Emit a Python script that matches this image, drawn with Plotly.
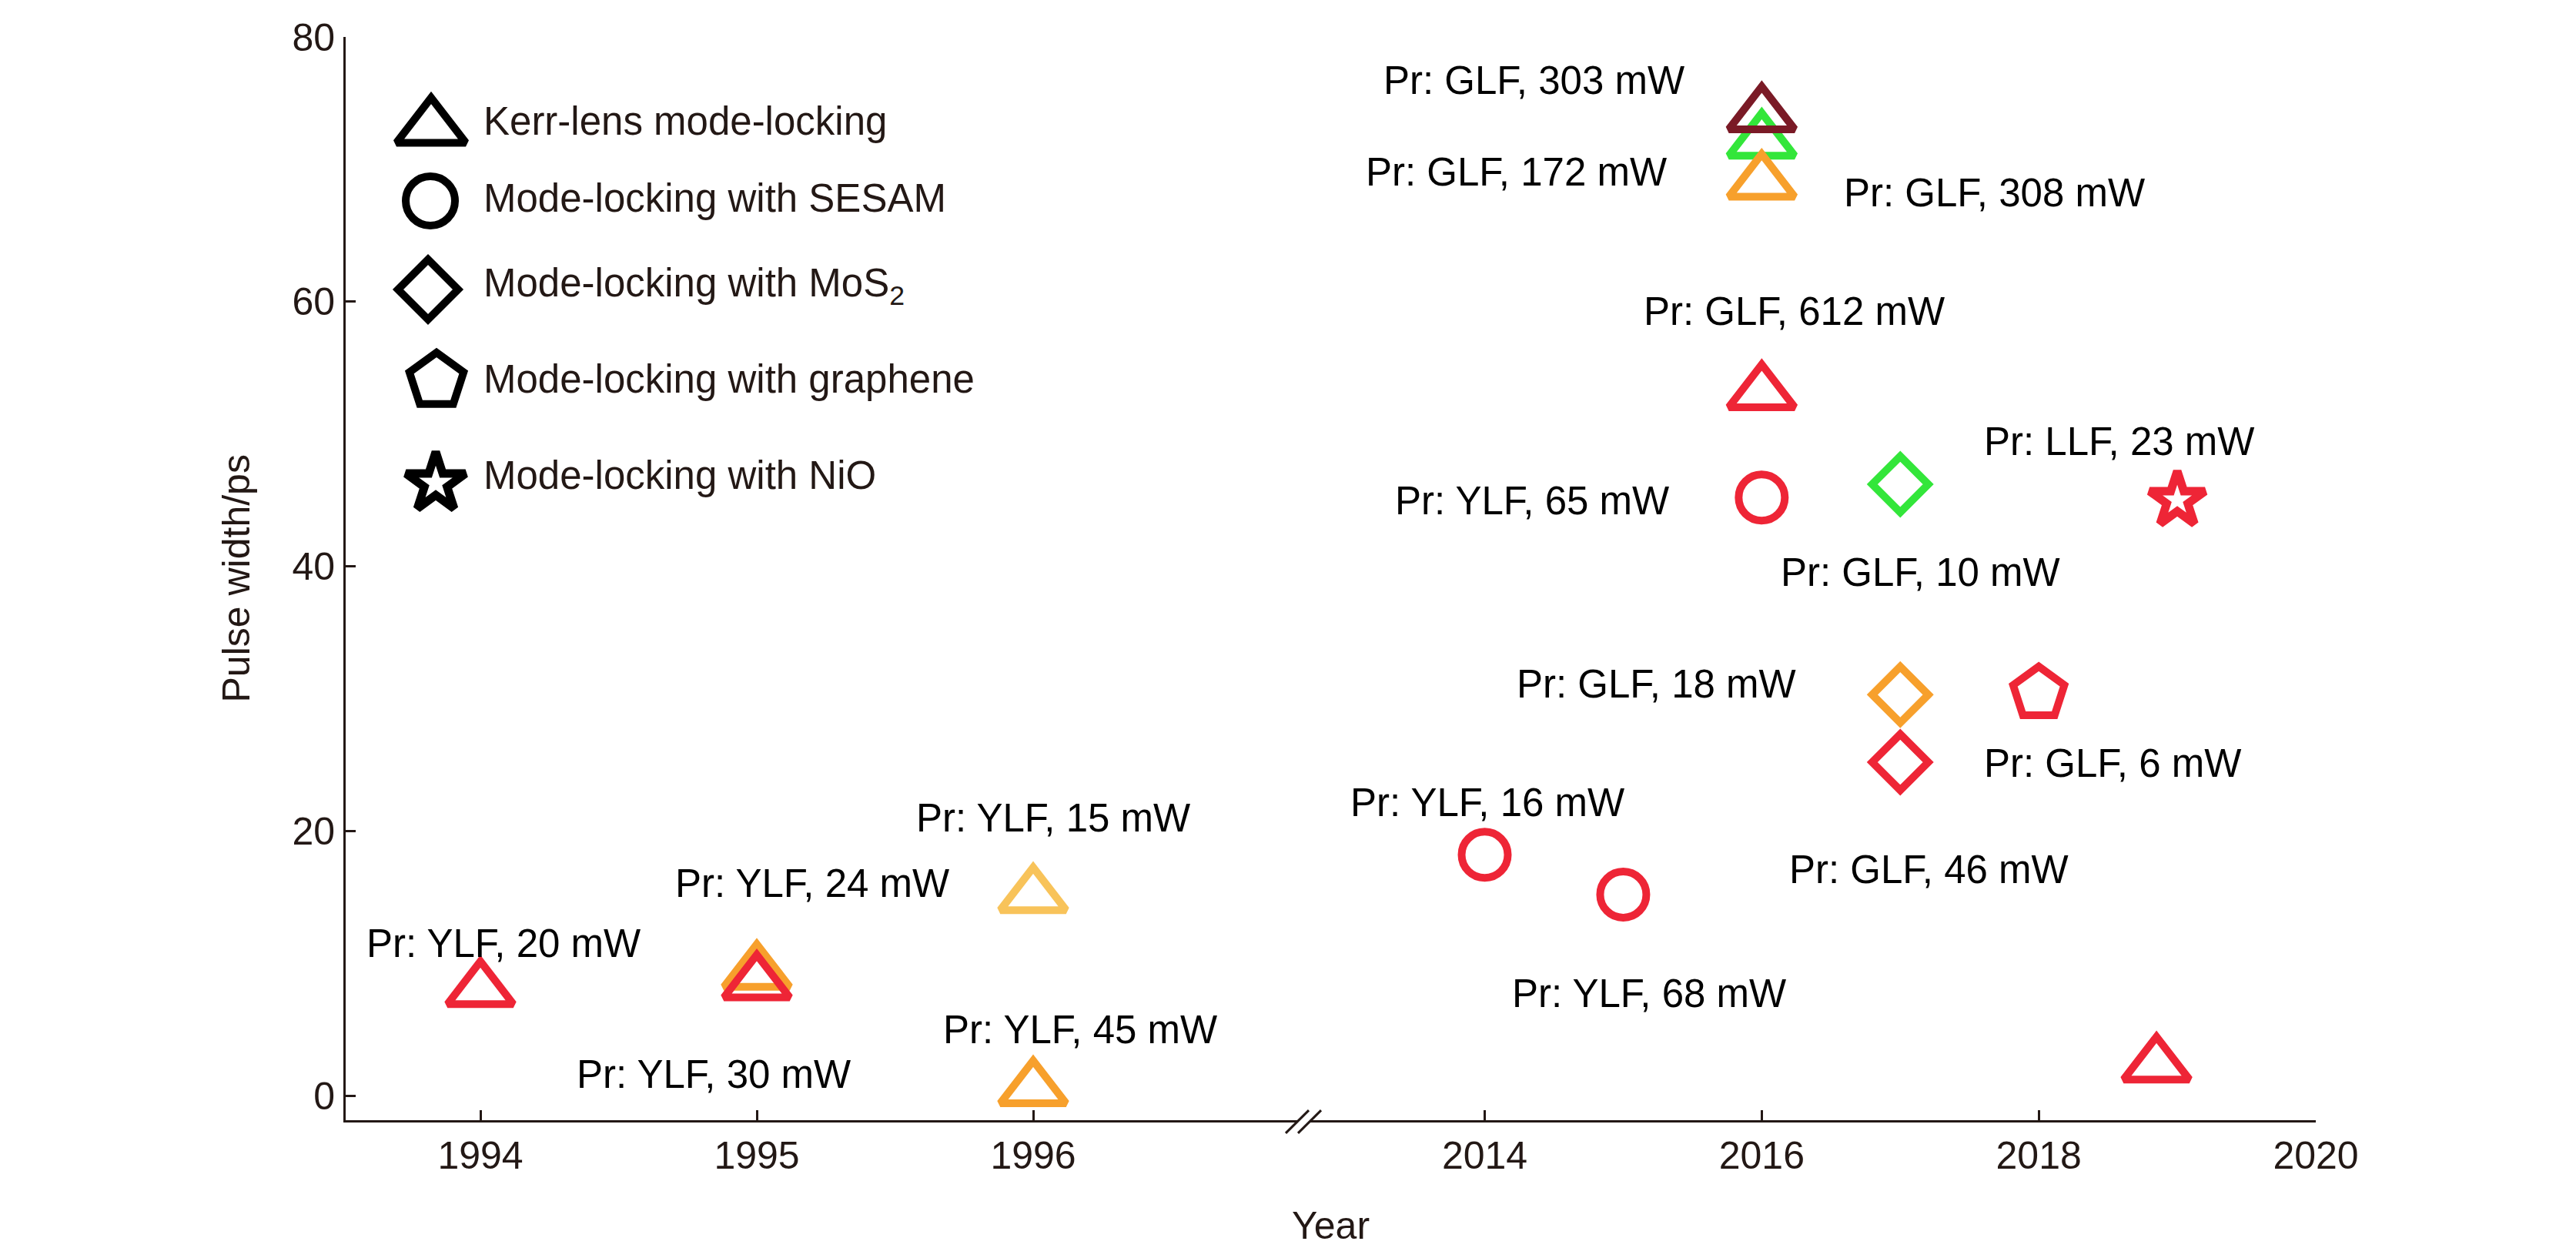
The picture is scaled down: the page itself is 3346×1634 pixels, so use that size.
import plotly.graph_objects as go

# ---------------- data ----------------
year = [1994, 1995, 1995, 1996, 1996,
        2014, 2015, 2016, 2016, 2016, 2016, 2016,
        2017, 2017, 2017, 2018, 2019, 2018.85]
pulse_ps = [8.0, 9.3, 8.5, 15.1, 0.5,
            18.2, 15.2, 45.2, 53.1, 72.1, 74.1, 69.0,
            46.2, 30.3, 25.2, 30.4, 45.0, 2.3]
method = ["Kerr", "Kerr", "Kerr", "Kerr", "Kerr",
          "SESAM", "SESAM", "SESAM", "Kerr", "Kerr", "Kerr", "Kerr",
          "MoS2", "MoS2", "MoS2", "graphene", "NiO", "Kerr"]
label = ["Pr: YLF, 20 mW", "Pr: YLF, 24 mW", "Pr: YLF, 30 mW", "Pr: YLF, 15 mW", "Pr: YLF, 45 mW",
         "Pr: YLF, 16 mW", "Pr: YLF, 68 mW", "Pr: YLF, 65 mW", "Pr: GLF, 612 mW",
         "Pr: GLF, 308 mW", "Pr: GLF, 303 mW", "Pr: GLF, 172 mW",
         "Pr: GLF, 10 mW", "Pr: GLF, 18 mW", "Pr: GLF, 46 mW", "Pr: GLF, 6 mW",
         "Pr: LLF, 23 mW", ""]

x_ticks_left = [1994, 1995, 1996]
x_ticks_right = [2014, 2016, 2018, 2020]
y_ticks = [0, 20, 40, 60, 80]

legend_methods = ["Kerr", "SESAM", "MoS2", "graphene", "NiO"]
legend_text = ["Kerr-lens mode-locking", "Mode-locking with SESAM",
               "Mode-locking with MoS<sub>2</sub>", "Mode-locking with graphene",
               "Mode-locking with NiO"]

# ---------------- styles ----------------
RED = "#EE2536"
ORANGE = "#F7A02C"
YELLOW = "#F8C35A"
GREEN = "#33E63A"
DARKRED = "#7A1A26"
INK = "#231815"
FONT = "Arial, Liberation Sans, sans-serif"
FS = 51

point_color = [RED, ORANGE, RED, YELLOW, ORANGE,
               RED, RED, RED, RED, GREEN, DARKRED, ORANGE,
               GREEN, ORANGE, RED, RED, RED, RED]
# label offsets (px) relative to the marker: (xshift, yshift)
label_shift = [(-150, 60), (-108, 116), (-236, -118), (-154, 101), (-119, 77),
               (-177, 68), (-146, -129), (-478, -4), (-155, 106),
               (105, -67), (-493, 45), (-516, 14),
               (-157, -114), (-500, 14), (-146, -139), (-73, -91),
               (-253, 76), (0, 0)]

symbol = {"Kerr": "triangle-up-open", "SESAM": "circle-open", "MoS2": "diamond-open",
          "graphene": "pentagon-open", "NiO": "star-open"}
msize = {"Kerr": 74, "SESAM": 60, "MoS2": 56, "graphene": 70, "NiO": 54}
mlw = {"Kerr": 10, "SESAM": 10, "MoS2": 10, "graphene": 10, "NiO": 11}

# layout geometry (page pixels); page body has a small default margin
OFF_X, OFF_Y = 8, 6
W, H = 3346 - 2 * 8, 1634 - 2 * 8
PL, PR, PT, PB = 449, 3008, 33, 1453
ML, MT = PL - OFF_X, PT - OFF_Y
MR, MB = W - (PR - OFF_X), H - (PB - OFF_Y)
PW, PH = PR - PL, PB - PT
BREAK_L, BREAK_R = 1686, 1702


def px2paper_x(px):
    return (px - PL) / PW


def px2paper_y(py):
    return (PB - py) / PH


fig = go.Figure()

# data markers, drawn point by point to keep overlap order
order = [1, 2, 0, 3, 4, 5, 6, 7, 8, 9, 10, 11, 12, 13, 14, 15, 16, 17]
for i in order:
    xa = "x" if year[i] < 2000 else "x2"
    m = method[i]
    fig.add_trace(go.Scatter(
        x=[year[i]], y=[pulse_ps[i]], xaxis=xa, yaxis="y", mode="markers",
        marker=dict(symbol=symbol[m], size=msize[m], color=point_color[i],
                    line=dict(width=mlw[m], color=point_color[i])),
        cliponaxis=False, showlegend=False, hoverinfo="skip"))

# labels
annotations = []
for i in range(len(year)):
    if not label[i]:
        continue
    xa = "x" if year[i] < 2000 else "x2"
    annotations.append(dict(
        x=year[i], y=pulse_ps[i], xref=xa, yref="y", text=label[i],
        xshift=label_shift[i][0], yshift=label_shift[i][1],
        xanchor="left", yanchor="middle", showarrow=False,
        font=dict(family=FONT, size=FS, color="black")))

# custom legend (pixel positioned on a hidden overlay axis)
legend_key_x = [560, 559, 556, 567, 566]
legend_key_y = [152, 248, 364, 484, 618]
legend_text_y = [144, 244, 359, 482, 608]
for k, m in enumerate(legend_methods):
    fig.add_trace(go.Scatter(
        x=[legend_key_x[k]], y=[legend_key_y[k]], xaxis="x3", yaxis="y3", mode="markers",
        marker=dict(symbol=symbol[m], size=msize[m] + 4, color="black",
                    line=dict(width=mlw[m], color="black")),
        cliponaxis=False, showlegend=False, hoverinfo="skip"))
    annotations.append(dict(
        x=px2paper_x(626), y=px2paper_y(legend_text_y[k]), xref="paper", yref="paper",
        text=legend_text[k], xanchor="left", yanchor="middle", showarrow=False,
        font=dict(family=FONT, size=FS, color=INK)))

# axis titles
annotations.append(dict(x=px2paper_x(306), y=0.5, xref="paper", yref="paper",
                        text="Pulse width/ps", textangle=-90, showarrow=False,
                        xanchor="center", yanchor="middle",
                        font=dict(family=FONT, size=50, color=INK)))
annotations.append(dict(x=0.5, y=px2paper_y(1591), xref="paper", yref="paper",
                        text="Year", showarrow=False, xanchor="center", yanchor="middle",
                        font=dict(family=FONT, size=50, color=INK)))

# axis break marks
shapes = []
for x0 in (1670, 1686):
    shapes.append(dict(type="line", xref="paper", yref="paper",
                       x0=px2paper_x(x0), y0=px2paper_y(1470),
                       x1=px2paper_x(x0 + 30), y1=px2paper_y(1440),
                       line=dict(color=INK, width=3)))

axis_common = dict(showline=True, linewidth=3, linecolor=INK, ticks="inside",
                   ticklen=13, tickwidth=2.5, tickcolor=INK, showgrid=False,
                   zeroline=False, ticklabeloverflow="allow",
                   tickfont=dict(family=FONT, size=50, color=INK))

fig.update_layout(
    width=W, height=H, autosize=False,
    margin=dict(l=ML, r=MR, t=MT, b=MB, pad=0),
    paper_bgcolor="white", plot_bgcolor="rgba(0,0,0,0)",
    showlegend=False,
    xaxis=dict(domain=[0, px2paper_x(BREAK_L)], range=[1993.5125, 1996.9582],
               tickmode="array", tickvals=x_ticks_left, ticktext=[str(v) for v in x_ticks_left],
               anchor="y", ticklabelstandoff=0, **axis_common),
    xaxis2=dict(domain=[px2paper_x(BREAK_R), 1], range=[2012.741, 2020],
                tickmode="array", tickvals=x_ticks_right, ticktext=[str(v) for v in x_ticks_right],
                anchor="y", ticklabelstandoff=0, **axis_common),
    yaxis=dict(domain=[0, 1], range=[-1.85, 80], tickmode="array", tickvals=y_ticks,
               ticktext=[str(v) for v in y_ticks], anchor="x", ticklabelstandoff=1,
               **axis_common),
    xaxis3=dict(domain=[0, 1], range=[PL, PR], visible=False, anchor="y3",
                fixedrange=True),
    yaxis3=dict(domain=[0, 1], range=[PB, PT], visible=False, anchor="x3",
                fixedrange=True),
    annotations=annotations,
    shapes=shapes,
)

fig.write_html("out.html")
